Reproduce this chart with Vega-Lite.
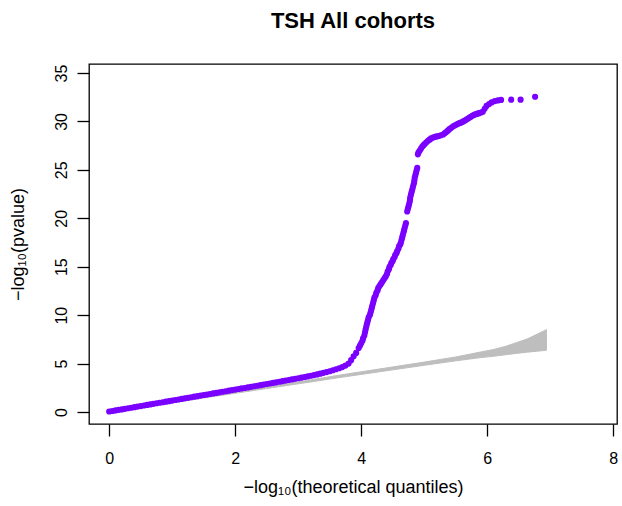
{
  "$schema": "https://vega.github.io/schema/vega-lite/v6.json",
  "autosize": {"type": "none"},
  "padding": {"left": 89, "top": 64, "right": 5, "bottom": 82},
  "width": 528,
  "height": 360,
  "background": "white",
  "title": {
    "text": "TSH All cohorts",
    "font": "Liberation Sans",
    "fontSize": 22,
    "fontWeight": "bold",
    "color": "black",
    "anchor": "middle",
    "offset": 31
  },
  "config": {
    "view": {"stroke": "black", "strokeWidth": 1.3},
    "axis": {
      "domain": false,
      "grid": false,
      "tickColor": "black",
      "tickWidth": 1.3,
      "tickSize": 12,
      "labelFont": "Liberation Sans",
      "labelFontSize": 16,
      "labelColor": "black",
      "titleFont": "Liberation Sans",
      "titleFontSize": 18,
      "titleFontWeight": "normal",
      "titleColor": "black"
    }
  },
  "datasets": {
    "band": [
      {"ex": 0.0, "lo": 0.0, "hi": 0.05},
      {"ex": 1.0, "lo": 0.95, "hi": 1.05},
      {"ex": 2.0, "lo": 1.93, "hi": 2.07},
      {"ex": 2.8, "lo": 2.72, "hi": 2.9},
      {"ex": 3.2, "lo": 3.1, "hi": 3.32},
      {"ex": 3.6, "lo": 3.5, "hi": 3.75},
      {"ex": 4.0, "lo": 3.88, "hi": 4.15},
      {"ex": 4.5, "lo": 4.35, "hi": 4.65},
      {"ex": 5.0, "lo": 4.82, "hi": 5.15},
      {"ex": 5.5, "lo": 5.28, "hi": 5.68},
      {"ex": 5.9, "lo": 5.62, "hi": 6.2},
      {"ex": 6.1, "lo": 5.75, "hi": 6.45},
      {"ex": 6.3, "lo": 5.92, "hi": 6.8},
      {"ex": 6.46, "lo": 6.05, "hi": 7.15},
      {"ex": 6.64, "lo": 6.18, "hi": 7.55},
      {"ex": 6.94, "lo": 6.37, "hi": 8.5}
    ],
    "qq": [
      {"ex": 0.0, "obs": 0.05}, {"ex": 0.05, "obs": 0.1}, {"ex": 0.1, "obs": 0.16}, {"ex": 0.15, "obs": 0.22},
      {"ex": 0.2, "obs": 0.27}, {"ex": 0.25, "obs": 0.33}, {"ex": 0.3, "obs": 0.39}, {"ex": 0.35, "obs": 0.44},
      {"ex": 0.4, "obs": 0.5}, {"ex": 0.45, "obs": 0.56}, {"ex": 0.5, "obs": 0.61}, {"ex": 0.55, "obs": 0.67},
      {"ex": 0.6, "obs": 0.73}, {"ex": 0.65, "obs": 0.78}, {"ex": 0.7, "obs": 0.84}, {"ex": 0.75, "obs": 0.9},
      {"ex": 0.8, "obs": 0.95}, {"ex": 0.85, "obs": 1.01}, {"ex": 0.9, "obs": 1.07}, {"ex": 0.95, "obs": 1.12},
      {"ex": 1.0, "obs": 1.18}, {"ex": 1.05, "obs": 1.24}, {"ex": 1.1, "obs": 1.29}, {"ex": 1.15, "obs": 1.35},
      {"ex": 1.2, "obs": 1.41}, {"ex": 1.25, "obs": 1.46}, {"ex": 1.3, "obs": 1.52}, {"ex": 1.35, "obs": 1.58},
      {"ex": 1.4, "obs": 1.63}, {"ex": 1.45, "obs": 1.69}, {"ex": 1.5, "obs": 1.75}, {"ex": 1.55, "obs": 1.8},
      {"ex": 1.6, "obs": 1.86}, {"ex": 1.65, "obs": 1.92}, {"ex": 1.7, "obs": 1.97}, {"ex": 1.75, "obs": 2.03},
      {"ex": 1.8, "obs": 2.09}, {"ex": 1.85, "obs": 2.14}, {"ex": 1.9, "obs": 2.2}, {"ex": 1.95, "obs": 2.26},
      {"ex": 2.0, "obs": 2.31}, {"ex": 2.05, "obs": 2.37}, {"ex": 2.1, "obs": 2.43}, {"ex": 2.15, "obs": 2.48},
      {"ex": 2.2, "obs": 2.54}, {"ex": 2.25, "obs": 2.6}, {"ex": 2.3, "obs": 2.66}, {"ex": 2.35, "obs": 2.71},
      {"ex": 2.4, "obs": 2.77}, {"ex": 2.45, "obs": 2.83}, {"ex": 2.5, "obs": 2.89}, {"ex": 2.55, "obs": 2.94},
      {"ex": 2.6, "obs": 3.0}, {"ex": 2.65, "obs": 3.06}, {"ex": 2.7, "obs": 3.12}, {"ex": 2.75, "obs": 3.18},
      {"ex": 2.8, "obs": 3.24}, {"ex": 2.85, "obs": 3.3}, {"ex": 2.9, "obs": 3.36}, {"ex": 2.95, "obs": 3.42},
      {"ex": 3.0, "obs": 3.48}, {"ex": 3.05, "obs": 3.54}, {"ex": 3.1, "obs": 3.61}, {"ex": 3.15, "obs": 3.67},
      {"ex": 3.2, "obs": 3.74}, {"ex": 3.25, "obs": 3.81}, {"ex": 3.3, "obs": 3.88}, {"ex": 3.35, "obs": 3.96},
      {"ex": 3.4, "obs": 4.04}, {"ex": 3.45, "obs": 4.12}, {"ex": 3.5, "obs": 4.21}, {"ex": 3.55, "obs": 4.31},
      {"ex": 3.6, "obs": 4.41}, {"ex": 3.65, "obs": 4.52}, {"ex": 3.7, "obs": 4.64}, {"ex": 3.75, "obs": 4.79},
      {"ex": 3.8, "obs": 5.0}, {"ex": 3.84, "obs": 5.35}, {"ex": 3.88, "obs": 5.75}, {"ex": 3.92, "obs": 6.1},
      {"ex": 3.96, "obs": 6.6}, {"ex": 3.98, "obs": 6.85}, {"ex": 4.0, "obs": 7.1}, {"ex": 4.02, "obs": 7.35},
      {"ex": 4.03, "obs": 7.6}, {"ex": 4.05, "obs": 7.9}, {"ex": 4.06, "obs": 8.2}, {"ex": 4.07, "obs": 8.5},
      {"ex": 4.08, "obs": 8.8}, {"ex": 4.09, "obs": 9.05}, {"ex": 4.1, "obs": 9.3}, {"ex": 4.11, "obs": 9.55},
      {"ex": 4.12, "obs": 9.8}, {"ex": 4.14, "obs": 10.05}, {"ex": 4.15, "obs": 10.3}, {"ex": 4.16, "obs": 10.55},
      {"ex": 4.17, "obs": 10.8}, {"ex": 4.18, "obs": 11.05}, {"ex": 4.19, "obs": 11.3}, {"ex": 4.2, "obs": 11.55},
      {"ex": 4.21, "obs": 11.8}, {"ex": 4.23, "obs": 12.05}, {"ex": 4.24, "obs": 12.3}, {"ex": 4.26, "obs": 12.55},
      {"ex": 4.27, "obs": 12.8}, {"ex": 4.29, "obs": 13.0}, {"ex": 4.31, "obs": 13.2}, {"ex": 4.33, "obs": 13.4},
      {"ex": 4.35, "obs": 13.6}, {"ex": 4.37, "obs": 13.8}, {"ex": 4.39, "obs": 14.0}, {"ex": 4.41, "obs": 14.25},
      {"ex": 4.42, "obs": 14.5}, {"ex": 4.44, "obs": 14.75}, {"ex": 4.45, "obs": 15.0}, {"ex": 4.47, "obs": 15.2},
      {"ex": 4.48, "obs": 15.4}, {"ex": 4.5, "obs": 15.6}, {"ex": 4.51, "obs": 15.8}, {"ex": 4.53, "obs": 16.0},
      {"ex": 4.54, "obs": 16.2}, {"ex": 4.56, "obs": 16.4}, {"ex": 4.57, "obs": 16.6}, {"ex": 4.59, "obs": 16.85},
      {"ex": 4.6, "obs": 17.1}, {"ex": 4.62, "obs": 17.3}, {"ex": 4.63, "obs": 17.5}, {"ex": 4.64, "obs": 17.75},
      {"ex": 4.65, "obs": 18.0}, {"ex": 4.66, "obs": 18.25}, {"ex": 4.67, "obs": 18.5}, {"ex": 4.68, "obs": 18.75},
      {"ex": 4.69, "obs": 19.0}, {"ex": 4.7, "obs": 19.25}, {"ex": 4.71, "obs": 19.5},
      {"ex": 4.73, "obs": 20.7}, {"ex": 4.74, "obs": 20.95}, {"ex": 4.75, "obs": 21.2}, {"ex": 4.76, "obs": 21.45},
      {"ex": 4.77, "obs": 21.7}, {"ex": 4.775, "obs": 21.95}, {"ex": 4.78, "obs": 22.2}, {"ex": 4.79, "obs": 22.45},
      {"ex": 4.8, "obs": 22.7}, {"ex": 4.81, "obs": 22.95}, {"ex": 4.82, "obs": 23.2}, {"ex": 4.83, "obs": 23.45},
      {"ex": 4.84, "obs": 23.7}, {"ex": 4.845, "obs": 23.95}, {"ex": 4.85, "obs": 24.2}, {"ex": 4.86, "obs": 24.45},
      {"ex": 4.87, "obs": 24.7}, {"ex": 4.88, "obs": 24.95}, {"ex": 4.89, "obs": 25.2},
      {"ex": 4.9, "obs": 26.6}, {"ex": 4.91, "obs": 26.8}, {"ex": 4.93, "obs": 27.0}, {"ex": 4.95, "obs": 27.2},
      {"ex": 4.97, "obs": 27.4}, {"ex": 4.99, "obs": 27.55}, {"ex": 5.01, "obs": 27.7}, {"ex": 5.035, "obs": 27.85},
      {"ex": 5.06, "obs": 28.0}, {"ex": 5.085, "obs": 28.12}, {"ex": 5.11, "obs": 28.25}, {"ex": 5.14, "obs": 28.33},
      {"ex": 5.17, "obs": 28.4}, {"ex": 5.2, "obs": 28.45}, {"ex": 5.23, "obs": 28.5}, {"ex": 5.265, "obs": 28.57},
      {"ex": 5.3, "obs": 28.65}, {"ex": 5.325, "obs": 28.78}, {"ex": 5.35, "obs": 28.9}, {"ex": 5.375, "obs": 29.05},
      {"ex": 5.4, "obs": 29.2}, {"ex": 5.43, "obs": 29.35}, {"ex": 5.46, "obs": 29.5}, {"ex": 5.49, "obs": 29.6},
      {"ex": 5.52, "obs": 29.7}, {"ex": 5.545, "obs": 29.78}, {"ex": 5.57, "obs": 29.85}, {"ex": 5.595, "obs": 29.92},
      {"ex": 5.62, "obs": 30.0}, {"ex": 5.645, "obs": 30.1}, {"ex": 5.67, "obs": 30.2}, {"ex": 5.695, "obs": 30.3},
      {"ex": 5.72, "obs": 30.4}, {"ex": 5.745, "obs": 30.5}, {"ex": 5.77, "obs": 30.6}, {"ex": 5.795, "obs": 30.68},
      {"ex": 5.82, "obs": 30.75}, {"ex": 5.845, "obs": 30.8}, {"ex": 5.87, "obs": 30.85}, {"ex": 5.9, "obs": 30.92},
      {"ex": 5.93, "obs": 31.0}, {"ex": 5.96, "obs": 31.3}, {"ex": 5.99, "obs": 31.6}, {"ex": 6.03, "obs": 31.8},
      {"ex": 6.07, "obs": 31.96}, {"ex": 6.12, "obs": 32.1}, {"ex": 6.17, "obs": 32.17}, {"ex": 6.22, "obs": 32.22},
      {"ex": 6.38, "obs": 32.25}, {"ex": 6.53, "obs": 32.25}, {"ex": 6.76, "obs": 32.55}
    ]
  },
  "layer": [
    {
      "data": {"name": "band"},
      "mark": {"type": "area", "color": "#BEBEBE", "stroke": "#BEBEBE", "strokeWidth": 1, "interpolate": "linear"},
      "encoding": {
        "x": {"field": "ex", "type": "quantitative"},
        "y": {"field": "lo", "type": "quantitative"},
        "y2": {"field": "hi"}
      }
    },
    {
      "data": {"name": "qq"},
      "mark": {"type": "circle", "color": "#7A00FF", "opacity": 1, "size": 38},
      "encoding": {
        "x": {
          "field": "ex", "type": "quantitative",
          "scale": {"domain": [-0.32, 8.06], "nice": false, "zero": false},
          "axis": {"values": [0, 2, 4, 6, 8], "format": "d", "labelPadding": 14, "titlePadding": 12, "title": "−log₁₀(theoretical quantiles)"}
        },
        "y": {
          "field": "obs", "type": "quantitative",
          "scale": {"domain": [-1.24, 35.93], "nice": false, "zero": false},
          "axis": {"values": [0, 5, 10, 15, 20, 25, 30, 35], "format": "d", "labelAngle": -90, "labelPadding": 8, "titlePadding": 26, "title": "−log₁₀(pvalue)"}
        }
      }
    }
  ]
}
